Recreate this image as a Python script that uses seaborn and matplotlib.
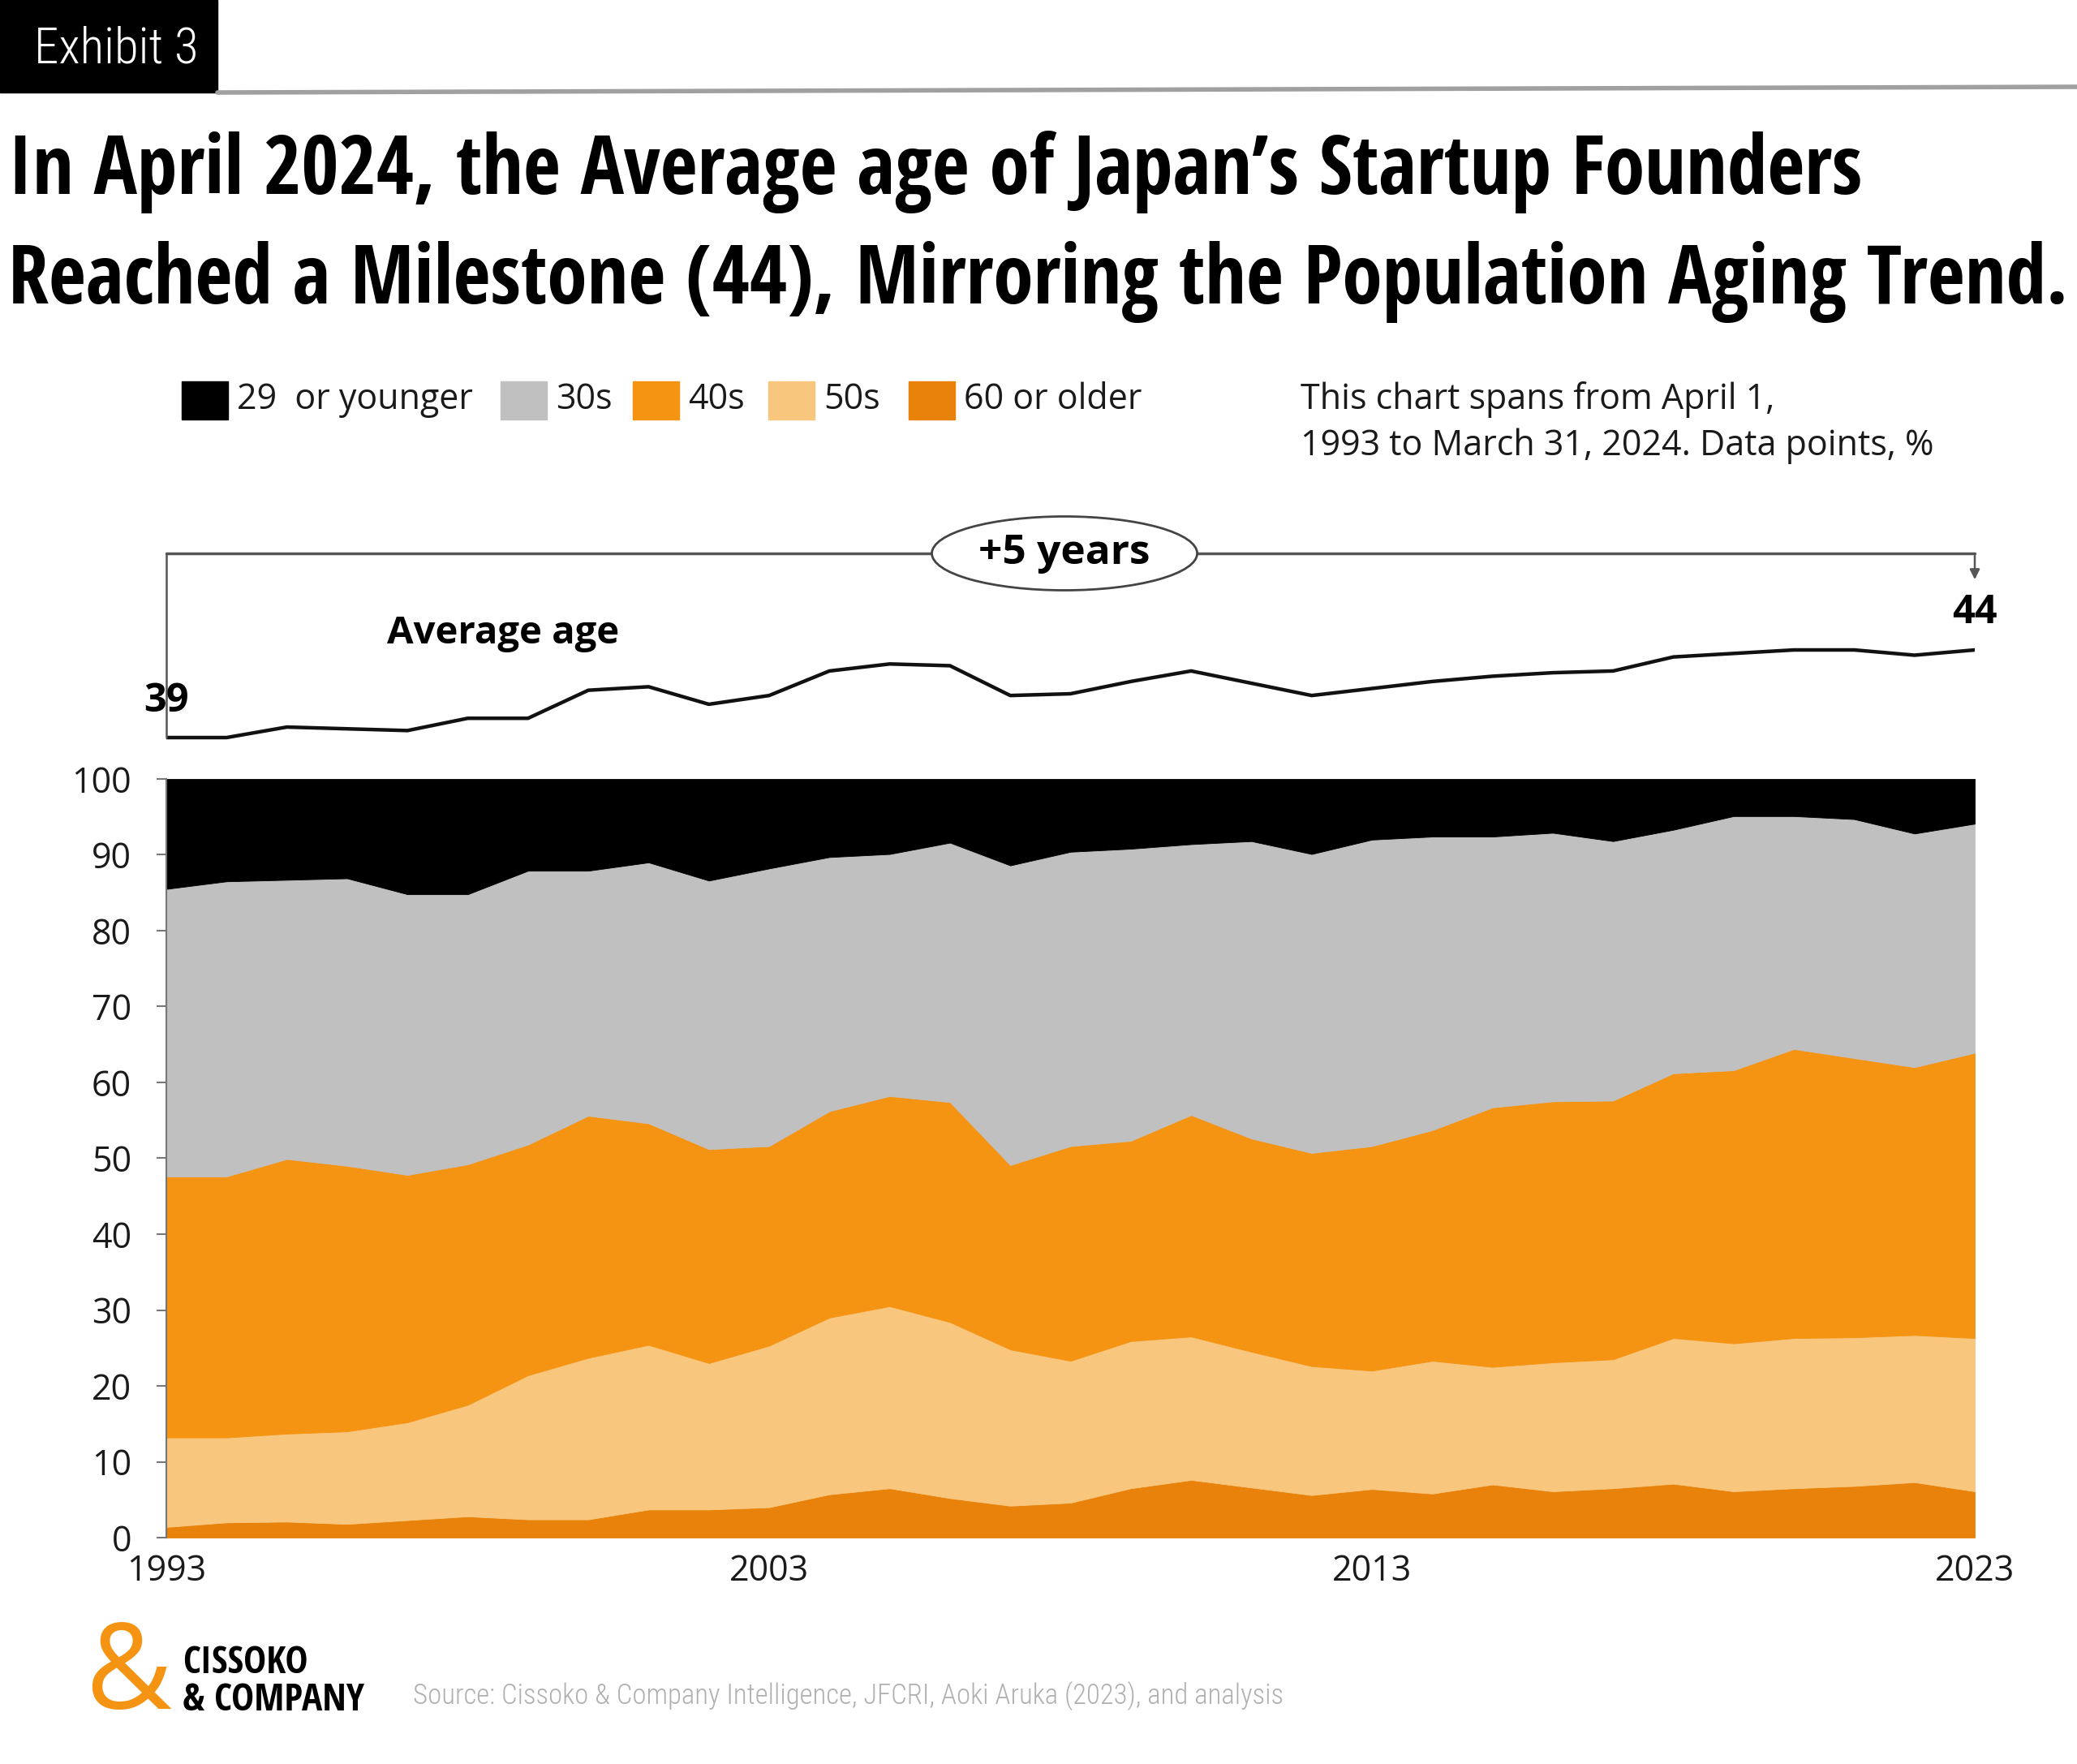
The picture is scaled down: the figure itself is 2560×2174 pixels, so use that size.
import numpy as np
import pandas as pd
import matplotlib.pyplot as plt
import seaborn as sns
from matplotlib.patches import Rectangle, Ellipse
from matplotlib.lines import Line2D

# Data (share of founders by age group, %)
years = list(range(1993, 2024))
age_60_plus = [1.4, 2.0, 2.1, 1.8, 2.3, 2.8, 2.4, 2.4, 3.7, 3.7, 4.0, 5.7, 6.5, 5.2, 4.2, 4.6,
               6.5, 7.6, 6.6, 5.6, 6.4, 5.8, 7.0, 6.1, 6.5, 7.1, 6.1, 6.5, 6.8, 7.3, 6.1]
age_50s = [11.8, 11.2, 11.6, 12.2, 12.9, 14.7, 19.0, 21.3, 21.7, 19.3, 21.3, 23.3, 24.0, 23.2, 20.6, 18.7,
           19.4, 18.9, 17.9, 17.0, 15.6, 17.5, 15.5, 17.0, 17.0, 19.2, 19.5, 19.8, 19.6, 19.4, 20.2]
age_40s = [34.4, 34.4, 36.2, 35.0, 32.6, 31.7, 30.4, 31.9, 29.2, 28.2, 26.3, 27.2, 27.7, 29.0, 24.3, 28.3,
           26.4, 29.2, 28.1, 28.1, 29.6, 30.4, 34.2, 34.4, 34.1, 34.9, 36.0, 38.1, 36.8, 35.3, 37.6]
age_30s = [37.9, 38.9, 36.8, 37.9, 37.0, 35.6, 36.1, 32.3, 34.4, 35.4, 36.6, 33.5, 31.9, 34.2, 39.5, 38.8,
           38.5, 35.7, 39.2, 39.4, 40.4, 38.7, 35.7, 35.4, 34.2, 32.1, 33.5, 30.7, 31.5, 30.8, 30.2]
age_29_under = [14.5, 13.5, 13.3, 13.1, 15.2, 15.2, 12.1, 12.1, 11.0, 13.4, 11.8, 10.3, 9.9, 8.4, 11.4, 9.6,
                9.2, 8.6, 8.2, 9.9, 8.0, 7.6, 7.6, 7.1, 8.2, 6.7, 4.9, 4.9, 5.3, 7.2, 5.9]
avg_age = [39.0, 39.0, 39.6, 39.5, 39.4, 40.1, 40.1, 41.7, 41.9, 40.9, 41.4, 42.8, 43.2, 43.1, 41.4, 41.5,
           42.2, 42.8, 42.1, 41.4, 41.8, 42.2, 42.5, 42.7, 42.8, 43.6, 43.8, 44.0, 44.0, 43.7, 44.0]

legend_labels = ['29  or younger', '30s', '40s', '50s', '60 or older']
legend_colors = ['#000000', '#c0c0c0', '#f59313', '#f8c67c', '#e8820b']

df = pd.DataFrame({'year': years, '60 or older': age_60_plus, '50s': age_50s, '40s': age_40s,
                   '30s': age_30s, '29  or younger': age_29_under, 'avg_age': avg_age})

sns.set_style('white')
plt.rcParams['font.family'] = ['Open Sans', 'DejaVu Sans']
plt.rcParams['text.color'] = '#1a1a1a'

W, H = 2560, 2174
fig = plt.figure(figsize=(W / 100, H / 100), dpi=100)

def fx(x):
    return x / W

def fy(y):
    return 1 - y / H

cond = ['Open Sans Condensed', 'Roboto Condensed', 'DejaVu Sans']
cond_light = ['Roboto Condensed', 'Open Sans Condensed', 'DejaVu Sans']

# header
fig.add_artist(Rectangle((0, fy(114)), fx(268), 114 / H, transform=fig.transFigure,
                         color='black', zorder=1))
fig.text(fx(143), fy(60), 'Exhibit 3', color='white', fontsize=44, fontweight='light',
         ha='center', va='center', family=cond_light)
fig.add_artist(Line2D([fx(268), 1], [fy(114), fy(107)], color='#a0a0a0', lw=4,
                      transform=fig.transFigure))

fig.text(fx(10), fy(212), "In April 2024, the Average age of Japan\u2019s Startup Founders",
         fontsize=72, fontweight='bold', ha='left', va='center', family=cond, color='black')
fig.text(fx(10), fy(348), "Reached a Milestone (44), Mirroring the Population Aging Trend.",
         fontsize=72, fontweight='bold', ha='left', va='center', family=cond, color='black')

# legend
patch_x = [224, 617, 780, 947, 1120]
for px, lab, col in zip(patch_x, legend_labels, legend_colors):
    fig.add_artist(Rectangle((fx(px), fy(517)), fx(57), 47 / H, transform=fig.transFigure,
                             color=col))
    fig.text(fx(px + 68), fy(493), lab, fontsize=31, ha='left', va='center')
fig.text(fx(1603), fy(493), 'This chart spans from April 1,', fontsize=31, ha='left',
         va='center')
fig.text(fx(1603), fy(550), '1993 to March 31, 2024. Data points, %', fontsize=31, ha='left',
         va='center')

# main stacked area
ax = fig.add_axes([fx(205), fy(1895), fx(2434) - fx(205), (1895 - 960) / H])
stack_cols = ['60 or older', '50s', '40s', '30s', '29  or younger']
stack_colors = [legend_colors[legend_labels.index(c)] for c in stack_cols]
ax.stackplot(df['year'], [df[c] for c in stack_cols], colors=stack_colors,
             edgecolor='face', linewidth=0.6)
ax.set_xlim(1993, 2023)
ax.set_ylim(0, 100)
ax.set_yticks(range(0, 101, 10))
ax.set_xticks([1993, 2003, 2013, 2023])
ax.tick_params(axis='y', length=9, width=1.5, color='#777777', pad=22, labelsize=31,
               labelcolor='#1a1a1a', left=True)
ax.tick_params(axis='x', length=0, pad=14, labelsize=31, labelcolor='#1a1a1a')
for s in ['top', 'right', 'bottom']:
    ax.spines[s].set_visible(False)
ax.spines['left'].set_color('#777777')
ax.spines['left'].set_linewidth(1.5)
ax.set_xlabel('')
ax.set_ylabel('')

# average age panel
bot_age = 39 - (960 - 909) / 21.6
top_age = 44 + (801 - 640) / 21.6
ax2 = fig.add_axes([fx(205), fy(960), fx(2434) - fx(205), (960 - 640) / H], sharex=ax)
ax2.set_facecolor('none')
sns.lineplot(data=df, x='year', y='avg_age', ax=ax2, color='#111111', lw=3.2)
ax2.set_ylim(bot_age, top_age)
ax2.axis('off')
ax2.set_xlim(1993, 2023)

bracket_y = top_age - (682 - 640) / 21.6
bcol = '#555555'
ax2.plot([1993, 1993], [avg_age[0], bracket_y], color=bcol, lw=1.8, clip_on=False)
ax2.plot([1993, 2023], [bracket_y, bracket_y], color=bcol, lw=2.5, clip_on=False)
ax2.annotate('', xy=(2023, bracket_y - (717 - 682) / 21.6), xytext=(2023, bracket_y),
             arrowprops=dict(arrowstyle='-|>', color=bcol, lw=1.8, mutation_scale=18))
ax2.add_patch(Ellipse((2007.9, bracket_y), width=327 / 74.3, height=91 / 21.6,
                      facecolor='white', edgecolor='#444444', lw=2, zorder=5, clip_on=False))
ax2.text(2007.9, bracket_y, '+5 years', fontsize=37, fontweight='bold', ha='center',
         va='center', zorder=6, color='black')
ax2.text(1993, avg_age[0] + (909 - 865) / 21.6, '39', fontsize=35, fontweight='bold',
         ha='center', va='center', color='black')
ax2.text(2023, avg_age[-1] + (801 - 756) / 21.6, '44', fontsize=35, fontweight='bold',
         ha='center', va='center', color='black')
fig.text(fx(477), fy(780), 'Average age', fontsize=34, fontweight='bold', ha='left',
         va='center', color='black')

# footer
fig.text(fx(158), fy(2068), '&', fontsize=105, color='#f59313',
         ha='center', va='center')
fig.text(fx(225), fy(2050), 'CISSOKO', fontsize=34, fontweight='bold', ha='left',
         va='center', family=cond, color='black')
fig.text(fx(225), fy(2095), '& COMPANY', fontsize=34, fontweight='bold', ha='left',
         va='center', family=cond, color='black')
fig.text(fx(509), fy(2090), 'Source: Cissoko & Company Intelligence, JFCRI, Aoki Aruka (2023), and analysis',
         fontsize=25, fontweight='light', color='#b0b0b0', ha='left', va='center',
         family=cond_light)

fig.savefig('out.png', dpi=100, facecolor='white')
